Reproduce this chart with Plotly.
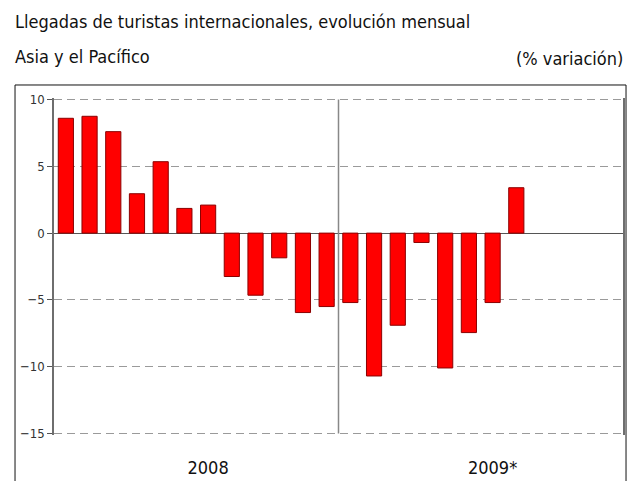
import plotly.graph_objects as go

# Monthly change in international tourist arrivals, Asia and the Pacific (%)
meses = ["ene", "feb", "mar", "abr", "may", "jun", "jul", "ago", "sep", "oct", "nov", "dic"]
anios = ["2008", "2009*"]
var_2008 = [8.6, 8.75, 7.6, 2.95, 5.35, 1.85, 2.1, -3.25, -4.65, -1.85, -5.95, -5.5]
var_2009 = [-5.2, -10.7, -6.9, -0.7, -10.1, -7.45, -5.2, 3.4, None, None, None, None]

categorias = [f"{m} {a}" for a in anios for m in meses]
valores = var_2008 + var_2009
tick_vals = [f"jul {a}" for a in anios]

NARROW = "DejaVu Sans Condensed, Liberation Sans Narrow, Arial Narrow, sans-serif"

fig = go.Figure()
fig.add_trace(
    go.Bar(
        x=categorias,
        y=valores,
        marker=dict(color="#ff0000", line=dict(color="#8b0000", width=1)),
        hovertemplate="%{x}: %{y:.1f}%<extra></extra>",
    )
)

fig.update_layout(
    width=630,
    height=481,
    margin=dict(l=54, r=7, t=98, b=46),
    paper_bgcolor="white",
    plot_bgcolor="white",
    showlegend=False,
    bargap=0.36,
    font=dict(family=NARROW, color="#222"),
    xaxis=dict(
        type="category",
        categoryorder="array",
        categoryarray=categorias,
        range=[-0.5, 23.5],
        tickvals=tick_vals,
        ticktext=anios,
        ticks="",
        showgrid=False,
        showline=False,
        zeroline=False,
        automargin=False,
        ticklabelstandoff=20,
        tickfont=dict(size=18, family=NARROW, color="#111"),
    ),
    yaxis=dict(
        range=[-15.12, 10.12],
        tickvals=[-15, -10, -5, 0, 5, 10],
        ticks="outside",
        ticklen=5,
        tickcolor="#555",
        showline=True,
        linecolor="#6e6e6e",
        linewidth=1.5,
        mirror=True,
        showgrid=True,
        gridcolor="#9a9a9a",
        griddash="8px,5px",
        gridwidth=1,
        zeroline=True,
        zerolinecolor="#555",
        zerolinewidth=1,
        automargin=False,
        tickfont=dict(size=13, family=NARROW, color="#333"),
    ),
)

# year divider
fig.add_shape(
    type="line", xref="x", yref="y",
    x0=11.5, x1=11.5, y0=-15, y1=10,
    line=dict(color="#888", width=1.5),
)
# outer frame
fig.add_shape(
    type="rect", xref="paper", yref="paper",
    x0=-0.0685, x1=1.0053, y0=-0.3, y1=1.0386,
    line=dict(color="#111", width=1),
)

fig.add_annotation(
    text="Llegadas de turistas internacionales, evolución mensual",
    xref="paper", yref="paper", x=-0.072, y=1.228,
    xanchor="left", yanchor="middle", showarrow=False,
    font=dict(size=18, family=NARROW, color="#111"),
)
fig.add_annotation(
    text="Asia y el Pacífico",
    xref="paper", yref="paper", x=-0.072, y=1.122,
    xanchor="left", yanchor="middle", showarrow=False,
    font=dict(size=18, family=NARROW, color="#111"),
)
fig.add_annotation(
    text="(% variación)",
    xref="paper", yref="paper", x=1.0035, y=1.116,
    xanchor="right", yanchor="middle", showarrow=False,
    font=dict(size=18, family=NARROW, color="#111"),
)

fig.write_html(
    "out.html",
    config={"displayModeBar": False},
    post_script="document.body.style.margin='0';",
)
